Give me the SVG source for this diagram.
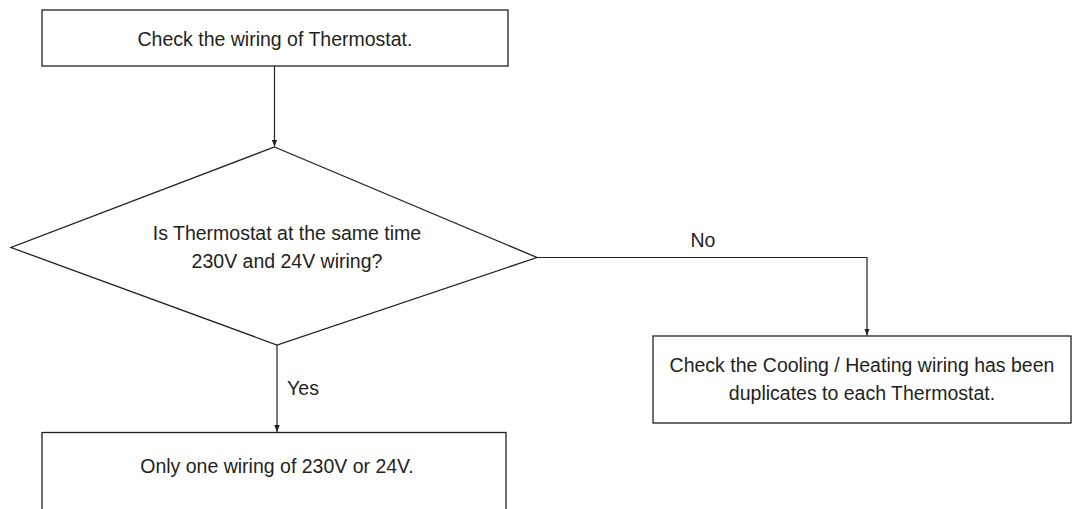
<svg xmlns="http://www.w3.org/2000/svg" width="1072" height="509" viewBox="0 0 1072 509">
<style>
.box{fill:#fff;stroke:#231f20;stroke-width:1.3}
.t{font-family:"Liberation Sans",Arial,sans-serif;font-size:19.5px;fill:#231f20;text-anchor:middle}
.c{fill:none;stroke:#231f20;stroke-width:1.2}
</style>
<defs>
<marker id="arr" viewBox="0 0 10 10" refX="10" refY="5" markerWidth="7" markerHeight="5.5" markerUnits="userSpaceOnUse" orient="auto" preserveAspectRatio="none">
<path d="M0,0 L10,5 L0,10 Z" fill="#231f20"/>
</marker>
</defs>
<rect width="1072" height="509" fill="#fff"/>
<g id="connectors">
<line class="c" x1="274.5" y1="66" x2="274.5" y2="146.5" marker-end="url(#arr)"/>
<polyline class="c" points="537,257.5 867,257.5 867,335.5" marker-end="url(#arr)"/>
<line class="c" x1="277" y1="345" x2="277" y2="432" marker-end="url(#arr)"/>
<text class="t" x="703" y="247">No</text>
<text class="t" x="303" y="395">Yes</text>
</g>
<g id="n1">
<rect class="box" x="42" y="10" width="466" height="56"/>
<text class="t" x="275" y="46">Check the wiring of Thermostat.</text>
</g>
<g id="n2">
<polygon class="box" points="274.5,147 537,257.5 277,345 11,247.5"/>
<text class="t" x="287" y="240">Is Thermostat at the same time</text>
<text class="t" x="287" y="268">230V and 24V wiring?</text>
</g>
<g id="n3">
<rect class="box" x="653" y="336" width="418" height="87"/>
<text class="t" x="862" y="372">Check the Cooling / Heating wiring has been</text>
<text class="t" x="862" y="399.5">duplicates to each Thermostat.</text>
</g>
<g id="n4">
<rect class="box" x="42" y="432.5" width="464" height="100"/>
<text class="t" x="277" y="473">Only one wiring of 230V or 24V.</text>
</g>
</svg>
